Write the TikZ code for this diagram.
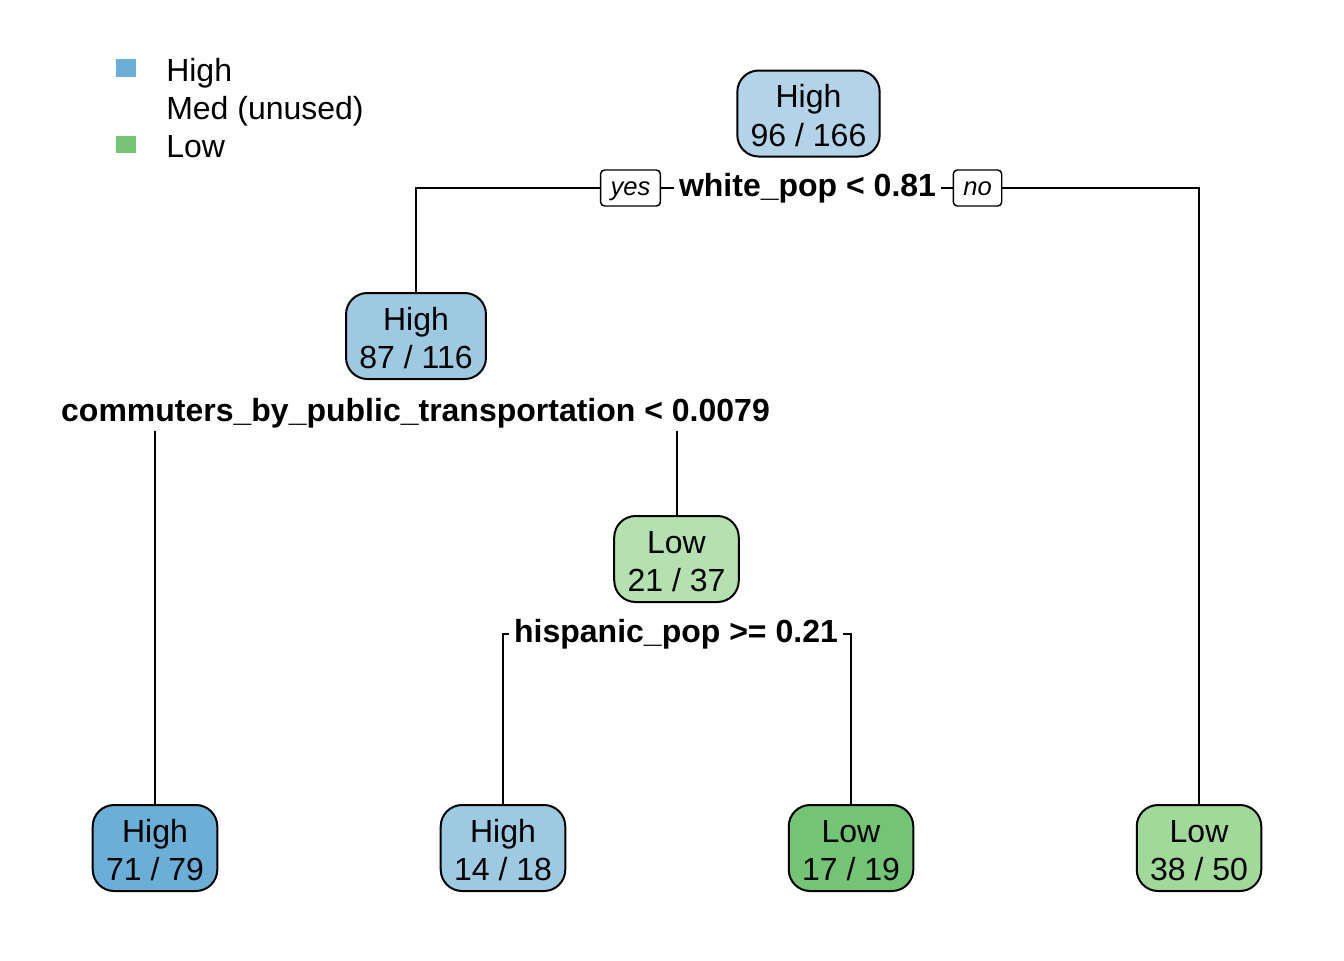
\documentclass[tikz,border=0pt]{standalone}
\usepackage{fontspec}
\setmainfont{Liberation Sans}
\definecolor{cRoot}{HTML}{B3D3E8}
\definecolor{cHighMid}{HTML}{9ECAE1}
\definecolor{cHighDark}{HTML}{6BAED6}
\definecolor{cLowLight}{HTML}{B5E0AF}
\definecolor{cLowMid}{HTML}{A1D99B}
\definecolor{cLowDark}{HTML}{74C476}
\tikzset{
  box/.style={draw, line width=1.5pt, rounded corners=16pt, align=center,
    text height=49pt, text depth=0pt,
    inner xsep=10pt, minimum height=64.5pt, font=\fontsize{24}{28.8}\selectfont},
  split/.style={font=\bfseries\fontsize{24}{28.8}\selectfont, inner xsep=3.5pt, inner ysep=2pt},
  yn/.style={draw, line width=1.1pt, rounded corners=3pt, text height=14pt, text depth=3.5pt,
    font=\itshape\fontsize{19.2}{23}\selectfont, inner xsep=7.5pt, minimum height=27pt},
  conn/.style={line width=1.5pt},
  legtext/.style={anchor=base west, font=\fontsize{24}{28.8}\selectfont, inner sep=0pt},
  legsq/.style={minimum width=15pt, minimum height=13pt, inner sep=0pt},
}
\begin{document}
\begin{tikzpicture}[x=0.75pt, y=-0.75pt]
\useasboundingbox (0,0) rectangle (1344,960);
% legend
\node[legsq, fill=cHighDark] (sqhigh) at (125.5,68) {};
\node[legsq, fill=cLowDark] (sqlow) at (125.5,144.5) {};
\node[legtext] (lghigh) at (166,81) {High};
\node[legtext] (lgmed) at (166,119) {Med (unused)};
\node[legtext] (lglow) at (166,157) {Low};
% nodes
\node[box, fill=cRoot] (root) at (808.5,113.5) {High\\96 / 166};
\node[box, fill=cHighMid] (n2) at (416,336) {High\\87 / 116};
\node[box, fill=cLowLight] (n3) at (676.5,559) {Low\\21 / 37};
\node[box, fill=cHighDark] (l1) at (155,848) {High\\71 / 79};
\node[box, fill=cHighMid] (l2) at (503,848) {High\\14 / 18};
\node[box, fill=cLowDark] (l3) at (851,848) {Low\\17 / 19};
\node[box, fill=cLowMid] (l4) at (1199,848) {Low\\38 / 50};
% split labels
\node[split, anchor=base] (s1) at (807.5,196) {white\_pop < 0.81};
\node[split, anchor=base] (s2) at (415.5,421) {commuters\_by\_public\_transportation < 0.0079};
\node[split, anchor=base] (s3) at (676,642) {hispanic\_pop >= 0.21};
\node[yn] (yes) at (630.5,188) {yes};
\node[yn] (no) at (977.5,188) {no};
% connectors
\draw[conn] (yes.west) -| (n2.north);
\draw[conn] (yes.east) -- (yes.east -| s1.west);
\draw[conn] (no.west) -- (no.west -| s1.east);
\draw[conn] (no.east) -| (l4.north);
\draw[conn] (s2.south -| l1.north) -- (l1.north);
\draw[conn] (s2.south -| n3.north) -- (n3.north);
\draw[conn] (l2.north) |- (s3.west);
\draw[conn] (l3.north) |- (s3.east);
\end{tikzpicture}
\end{document}
